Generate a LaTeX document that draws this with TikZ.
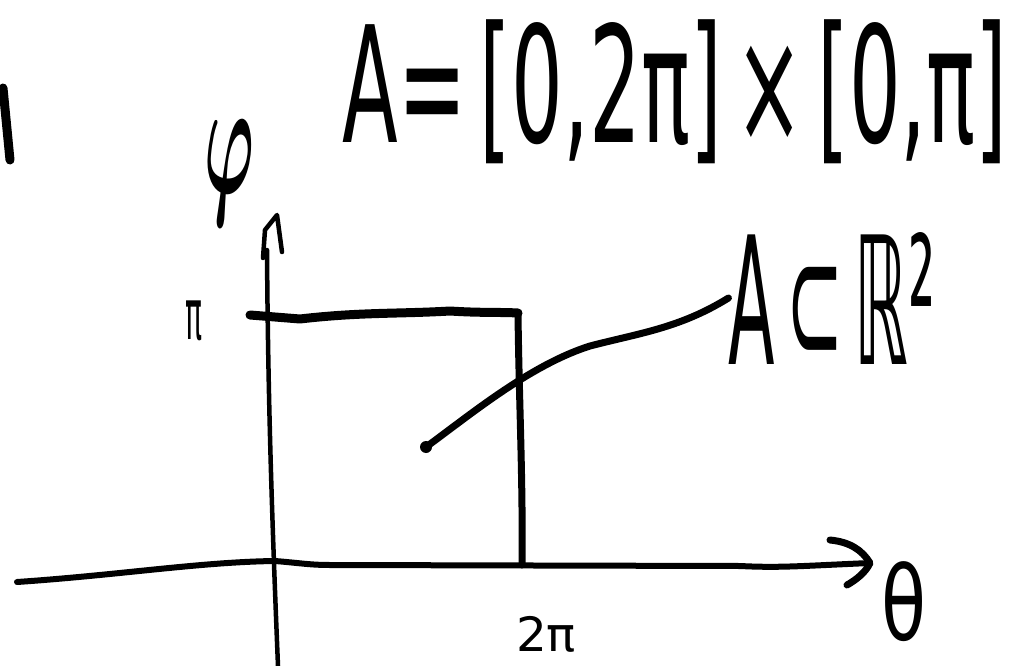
\documentclass[tikz,border=0pt]{standalone}
\usepackage{graphicx}
\usepackage{fontspec}
\setmainfont{DejaVu Sans}
\begin{document}
\begin{tikzpicture}[x=1pt,y=-1pt,
  pen/.style={line width=#1,line cap=round,line join=round,black},
  pen/.default=5pt,
  lbl/.style={inner sep=0pt,outer sep=0pt,anchor=center}]
\useasboundingbox (0,0) rectangle (1023,666);
% title
\node[lbl] (title) at (675,92) {\resizebox*{665pt}{144pt}{A=\,[0,2π]\,×\,[0,π]}};
% stray stroke at left edge
\coordinate (s1) at (3,88);
\coordinate (s2) at (10,160);
\draw[pen=9pt] (s1) -- (s2);
% axis labels
\node[lbl] (phi) at (230,173) {\resizebox*{50pt}{105pt}{\boldmath$\varphi$}};
\node[lbl] (theta) at (904,602) {\resizebox*{45pt}{80pt}{θ}};
\node[lbl] (pi) at (194,321) {\resizebox*{17pt}{40pt}{π}};
\node[lbl] (twopi) at (546,634) {\resizebox*{60pt}{36pt}{2π}};
\node[lbl] (set) at (832,298) {\resizebox*{207pt}{132pt}{A\,⊂\,ℝ²}};
% y axis
\coordinate (ytop) at (267,250);
\coordinate (ybot) at (278,666);
\draw[pen=4.5pt] (ytop) .. controls (268,400) and (272,520) .. (ybot);
\draw[pen=4.5pt] (263,258) -- (265,230) -- (277,215) -- (282,252);
% x axis
\coordinate (xl) at (17,582);
\coordinate (xr) at (870,563);
\draw[pen=6pt] (xl) .. controls (120,575) and (200,562) .. (275,561)
  .. controls (300,563) and (310,565) .. (330,565)
  -- (740,566) .. controls (780,568) and (800,566) .. (xr);
\draw[pen=7pt] (830,540) .. controls (850,542) and (862,550) .. (xr)
  .. controls (866,572) and (856,580) .. (847,585);
% rectangle
\coordinate (rtl) at (250,315);
\coordinate (rtr) at (518,313);
\coordinate (rbr) at (522,565);
\draw[pen=9pt] (rtl) -- (300,319) .. controls (360,312) and (400,314) .. (450,311)
  .. controls (480,313) and (500,312) .. (rtr);
\draw[pen=7pt] (rtr) .. controls (519,400) and (523,480) .. (rbr);
% leader line
\coordinate (lead) at (426,447);
\draw[pen=7pt] (lead) .. controls (470,415) and (530,365) .. (590,346)
  .. controls (640,333) and (680,328) .. (set.west);
\fill (lead) circle (6pt);
\end{tikzpicture}
\end{document}
